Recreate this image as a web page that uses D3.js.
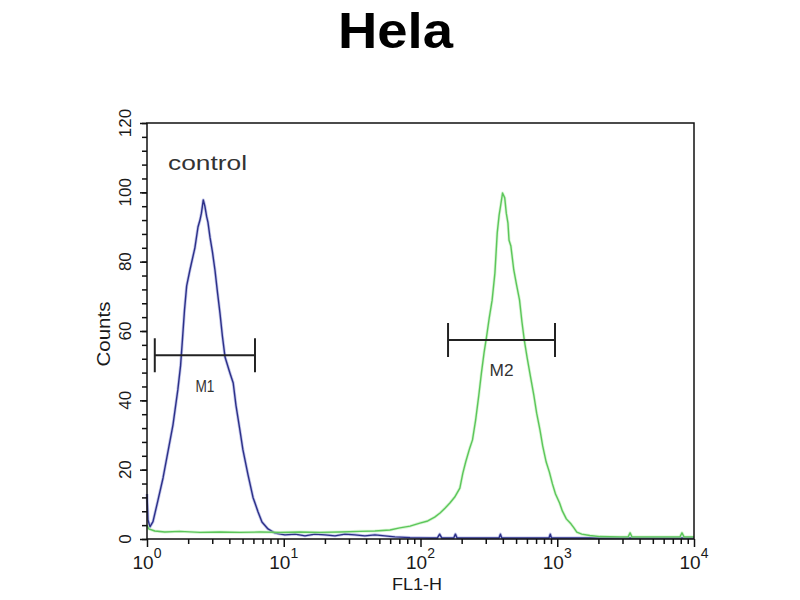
<!DOCTYPE html>
<html>
<head>
<meta charset="utf-8">
<script src="https://cdn.jsdelivr.net/npm/d3@7/dist/d3.min.js"></script>
<style>
  html, body { margin: 0; padding: 0; background: #ffffff; }
  svg { display: block; font-family: "Liberation Sans", Arial, sans-serif; }
</style>
</head>
<body>
<svg id="chart" width="800" height="600"></svg>
<script>
// ---------- data ----------
const title = "Hela";
const xLabel = "FL1-H";
const yLabel = "Counts";
const annotation = "control";

const xTickValues = [1, 10, 100, 1000, 10000];
const xTickExponents = ["0", "1", "2", "3", "4"];
const yTickValues = [0, 20, 40, 60, 80, 100, 120];

// control histogram (blue): [FL1-H, count]
const controlSeries = [
  [1.00, 13], [1.017, 5.5], [1.05, 3.5], [1.106, 5], [1.20, 11], [1.31, 17.6],
  [1.42, 25], [1.55, 33], [1.68, 43], [1.76, 50], [1.82, 58], [1.88, 66], [1.95, 73],
  [2.06, 77.6], [2.24, 84], [2.36, 90], [2.44, 92], [2.50, 94], [2.58, 97.8],
  [2.65, 96], [2.73, 93], [2.79, 91.4], [2.89, 87], [3.01, 82.8], [3.14, 77.6],
  [3.28, 71], [3.42, 65], [3.56, 58.5], [3.72, 52.5], [4.04, 47.9], [4.27, 45],
  [4.47, 38.6], [4.78, 31.4], [5.03, 25.7], [5.48, 18.5], [5.96, 12], [6.49, 7.8],
  [6.93, 4.9], [7.67, 2.9], [8.62, 1.7], [10.2, 1.2], [12.1, 1.4], [14.3, 0.9],
  [16.9, 1.4], [20.0, 1.2], [23.7, 0.9], [28.0, 1.4], [33.1, 1.2], [39.2, 0.9],
  [46.4, 1.2], [54.9, 0.9], [65, 0.6], [83.9, 0.4], [117, 0.3],
  [133, 0.3], [138, 1.4], [143, 0.3], [175, 0.3], [180, 1.4], [185, 0.3],
  [375, 0.3], [384, 1.4], [393, 0.3], [870, 0.3], [889, 1.4], [908, 0.3],
  [10000, 0.3]
];

// sample histogram (green): [FL1-H, count]
const sampleSeries = [
  [1.00, 4], [1.03, 2.9], [1.14, 2.3], [1.35, 2], [1.74, 2.2], [2.44, 1.9],
  [3.42, 2], [4.78, 1.9], [6.7, 2], [9.4, 1.9], [13.1, 2], [18.4, 1.9],
  [25.7, 2], [36, 2.2], [46.4, 2.3], [59.8, 2.6], [70.6, 3.2], [83.9, 3.7],
  [99, 4.6], [113, 5.2], [127, 6.3], [139, 7.5], [151, 8.9], [164, 10.4],
  [178, 12.1], [194, 14.7], [204, 19], [214, 22.2], [229, 26.2], [240, 28.6],
  [253, 34.3], [267, 41.5], [279, 47.9], [292, 53.9], [304, 58.3], [318, 63.7],
  [334, 68.9], [350, 76.7], [364, 88.3], [376, 93.5], [385, 96], [398, 99.8],
  [413, 98.4], [424, 94], [436, 91.1], [444, 86.2], [458, 84.5], [481, 77.6],
  [504, 73.3], [530, 68.9], [552, 62.6], [574, 57.4], [603, 52.2], [640, 46.4],
  [674, 41.5], [707, 36.3], [748, 31.4], [783, 26.8], [830, 22.2], [876, 19.3],
  [922, 15.9], [971, 13], [1040, 10.4], [1089, 8.1], [1165, 5.8], [1263, 4.3],
  [1324, 3.2], [1390, 2], [1510, 1.4], [1730, 1], [2050, 0.7], [2880, 0.6],
  [3300, 0.6], [3410, 1.8], [3520, 0.6], [5600, 0.6], [7900, 0.6], [8170, 1.8],
  [8450, 0.6], [10000, 0.6]
];

// gates (markers)
const markerNames = ["M1", "M2"];
const markerLo = [1.14, 159];
const markerHi = [6.16, 963];
const markerLevel = [53, 57.4];
const markerLabelLevel = [42.5, 47];

// ---------- layout ----------
const svg = d3.select("#chart");
const plot = { left: 147, right: 694, top: 123, bottom: 539 };

const x = d3.scaleLog().domain([1, 10000]).range([plot.left, plot.right]);
const y = d3.scaleLinear().domain([0, 120]).range([plot.bottom, plot.top]);

// title
svg.append("text")
  .attr("x", 395.5).attr("y", 48)
  .attr("text-anchor", "middle")
  .attr("font-size", 50).attr("font-weight", "bold")
  .attr("textLength", 115).attr("lengthAdjust", "spacingAndGlyphs")
  .attr("fill", "#000")
  .text(title);

// curves
const line = d3.line().x(d => x(d[0])).y(d => y(d[1])).curve(d3.curveLinear);

const curves = svg.append("g");
function drawCurve(data, halo, core) {
  curves.append("path").attr("d", line(data))
    .attr("fill", "none").attr("stroke", halo).attr("stroke-width", 3)
    .attr("stroke-linejoin", "round").attr("opacity", 0.55);
  curves.append("path").attr("d", line(data))
    .attr("fill", "none").attr("stroke", core).attr("stroke-width", 1.4)
    .attr("stroke-linejoin", "round");
}
drawCurve(controlSeries, "#8f95d8", "#2c3088");
drawCurve(sampleSeries, "#b6ecb0", "#5cc65a");

// frame
svg.append("rect")
  .attr("x", plot.left).attr("y", plot.top)
  .attr("width", plot.right - plot.left).attr("height", plot.bottom - plot.top)
  .attr("fill", "none").attr("stroke", "#111").attr("stroke-width", 1.5);

// y axis
const yMinor = d3.range(0, 121, 4);
const yAxisMinor = d3.axisLeft(y).tickValues(yMinor).tickSize(5).tickFormat("");
const yAxisMajor = d3.axisLeft(y).tickValues(yTickValues).tickSize(7).tickFormat("");
[yAxisMinor, yAxisMajor].forEach(ax => {
  const g = svg.append("g").attr("transform", `translate(${plot.left},0)`).call(ax);
  g.select(".domain").remove();
  g.selectAll("line").attr("stroke", "#111").attr("stroke-width", 1.5);
});
svg.append("g").selectAll("text").data(yTickValues).join("text")
  .attr("transform", d => `translate(131,${y(d)}) rotate(-90)`)
  .attr("text-anchor", "middle")
  .attr("font-size", 17).attr("fill", "#1a1a1a")
  .text(d => d);

svg.append("text")
  .attr("transform", `translate(110,334) rotate(-90)`)
  .attr("text-anchor", "middle")
  .attr("font-size", 18).attr("fill", "#1a1a1a")
  .attr("textLength", 65).attr("lengthAdjust", "spacingAndGlyphs")
  .text(yLabel);

// x axis
const xMinor = [];
xTickValues.slice(0, -1).forEach(dec => { for (let k = 2; k <= 9; k++) xMinor.push(dec * k); });
const xAxisMinor = d3.axisBottom(x).tickValues(xMinor).tickSize(5).tickFormat("");
const xAxisMajor = d3.axisBottom(x).tickValues(xTickValues).tickSize(8).tickFormat("");
[xAxisMinor, xAxisMajor].forEach(ax => {
  const g = svg.append("g").attr("transform", `translate(0,${plot.bottom})`).call(ax);
  g.select(".domain").remove();
  g.selectAll("line").attr("stroke", "#111").attr("stroke-width", 1.5);
});
const xt = svg.append("g").selectAll("text").data(xTickValues).join("text")
  .attr("x", d => x(d)).attr("y", 569)
  .attr("text-anchor", "middle")
  .attr("font-size", 19).attr("fill", "#1a1a1a");
xt.append("tspan").text("10");
xt.append("tspan").attr("dy", -11).attr("font-size", 14).text((d, i) => xTickExponents[i]);

svg.append("text")
  .attr("x", 417).attr("y", 590)
  .attr("text-anchor", "middle")
  .attr("font-size", 17).attr("fill", "#1a1a1a")
  .attr("textLength", 50).attr("lengthAdjust", "spacingAndGlyphs")
  .text(xLabel);

// annotation
svg.append("text")
  .attr("x", 168).attr("y", 170)
  .attr("font-size", 21).attr("fill", "#333")
  .attr("textLength", 79).attr("lengthAdjust", "spacingAndGlyphs")
  .text(annotation);

// markers
const mg = svg.append("g");
markerNames.forEach((name, i) => {
  const x0 = x(markerLo[i]), x1 = x(markerHi[i]), yy = y(markerLevel[i]);
  mg.append("line").attr("x1", x0).attr("x2", x1).attr("y1", yy).attr("y2", yy)
    .attr("stroke", "#222").attr("stroke-width", 2);
  [x0, x1].forEach(xx => {
    mg.append("line").attr("x1", xx).attr("x2", xx).attr("y1", yy - 17).attr("y2", yy + 17)
      .attr("stroke", "#222").attr("stroke-width", 2);
  });
  mg.append("text")
    .attr("x", x(Math.sqrt(markerLo[i] * markerHi[i]))).attr("y", y(markerLabelLevel[i]))
    .attr("text-anchor", "middle")
    .attr("font-size", 16).attr("fill", "#333")
    .attr("textLength", name === "M1" ? 19 : 24).attr("lengthAdjust", "spacingAndGlyphs")
    .text(name);
});
</script>
</body>
</html>
